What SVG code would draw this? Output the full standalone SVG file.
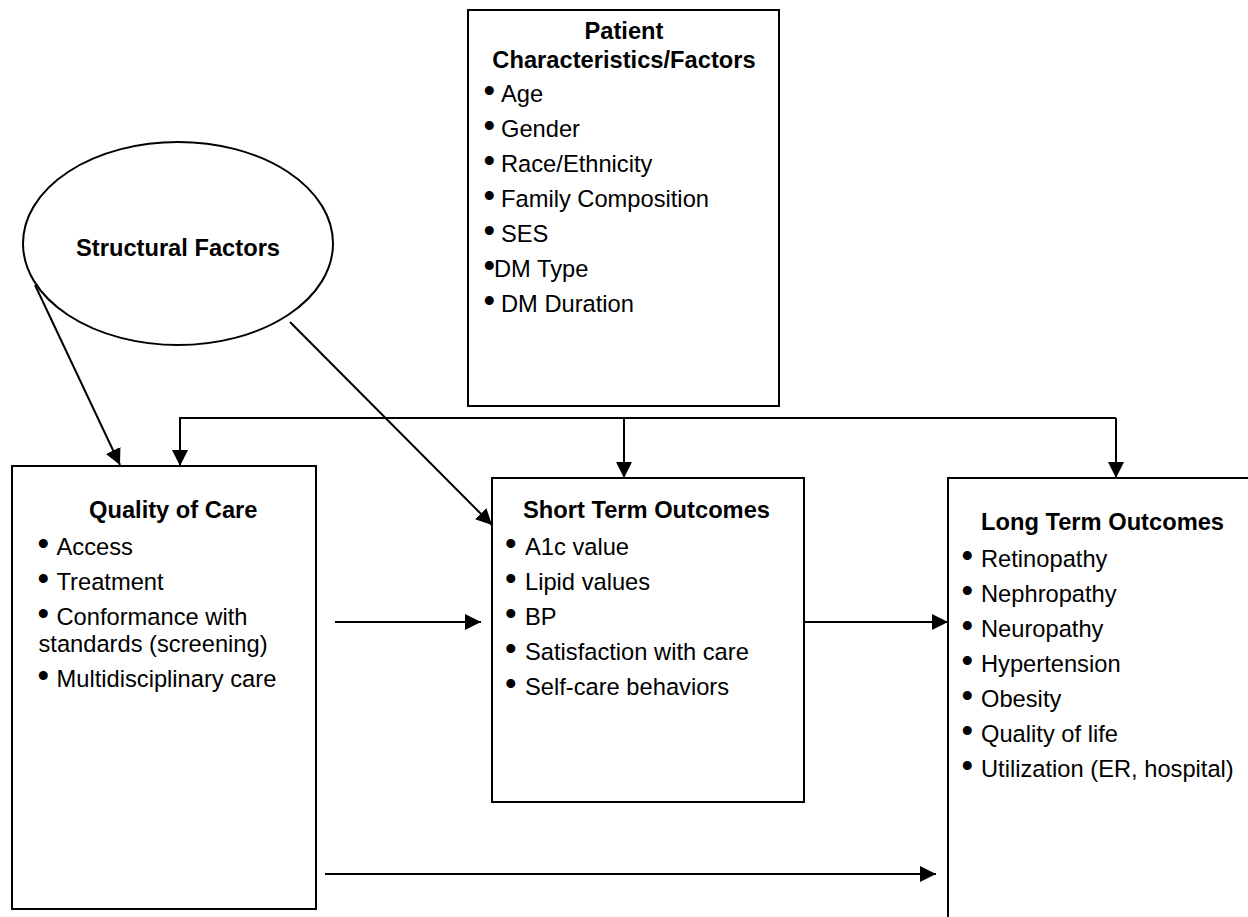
<svg xmlns="http://www.w3.org/2000/svg" width="1248" height="917" viewBox="0 0 1248 917">
<style>
  .box { fill: #fff; stroke: #000; stroke-width: 2; }
  .t { font-family: "Liberation Sans", Arial, sans-serif; font-size: 23.7px; fill: #000; }
  .h { font-family: "Liberation Sans", Arial, sans-serif; font-size: 23.7px; font-weight: bold; fill: #000; }
  .bu { font-family: "Liberation Sans", Arial, sans-serif; font-size: 33px; fill: #000; }
  .c { fill: none; stroke: #000; stroke-width: 2; }
</style>
<defs>
  <marker id="ah" markerUnits="userSpaceOnUse" markerWidth="16" markerHeight="16" refX="16" refY="8" orient="auto">
    <path d="M0,0 L16,8 L0,16 z" fill="#000"/>
  </marker>
</defs>
<rect width="1248" height="917" fill="#fff"/>

<g id="connectors">
  <path class="c" d="M35,285 L120,465" marker-end="url(#ah)"/>
  <path class="c" d="M290,322 L492,525" marker-end="url(#ah)"/>
  <path class="c" d="M1116,418 H180 V466" marker-end="url(#ah)"/>
  <path class="c" d="M1116,418 V478" marker-end="url(#ah)"/>
  <path class="c" d="M624,418 V478" marker-end="url(#ah)"/>
  <path class="c" d="M335,622 H481" marker-end="url(#ah)"/>
  <path class="c" d="M804,622 H948" marker-end="url(#ah)"/>
  <path class="c" d="M325,874 H936" marker-end="url(#ah)"/>
</g>

<g id="structural">
  <ellipse class="box" cx="178" cy="243.5" rx="155" ry="101.5"/>
  <text class="h" x="76" y="256">Structural Factors</text>
</g>

<g id="patient">
  <rect class="box" x="468" y="10" width="311" height="396"/>
  <text class="h" x="624" y="39" text-anchor="middle">Patient</text>
  <text class="h" x="624" y="67.5" text-anchor="middle">Characteristics/Factors</text>
  <text class="bu" x="483.5" y="102">•</text><text class="t" x="501" y="102">Age</text>
  <text class="bu" x="483.5" y="137">•</text><text class="t" x="501" y="137">Gender</text>
  <text class="bu" x="483.5" y="172">•</text><text class="t" x="501" y="172">Race/Ethnicity</text>
  <text class="bu" x="483.5" y="207">•</text><text class="t" x="501" y="207">Family Composition</text>
  <text class="bu" x="483.5" y="242">•</text><text class="t" x="501" y="242">SES</text>
  <text class="bu" x="483.5" y="277">•</text><text class="t" x="494" y="277">DM Type</text>
  <text class="bu" x="483.5" y="312">•</text><text class="t" x="501" y="312">DM Duration</text>
</g>

<g id="quality">
  <rect class="box" x="12" y="466" width="304" height="443"/>
  <text class="h" x="89" y="518">Quality of Care</text>
  <text class="bu" x="37.5" y="555">•</text><text class="t" x="56.5" y="555">Access</text>
  <text class="bu" x="37.5" y="590">•</text><text class="t" x="56.5" y="590">Treatment</text>
  <text class="bu" x="37.5" y="624.5">•</text><text class="t" x="56.5" y="624.5">Conformance with</text>
  <text class="t" x="38.5" y="651.5">standards (screening)</text>
  <text class="bu" x="37.5" y="687">•</text><text class="t" x="56.5" y="687">Multidisciplinary care</text>
</g>

<g id="short">
  <rect class="box" x="492" y="478" width="312" height="324"/>
  <text class="h" x="523" y="518">Short Term Outcomes</text>
  <text class="bu" x="505" y="554.5">•</text><text class="t" x="525" y="554.5">A1c value</text>
  <text class="bu" x="505" y="589.5">•</text><text class="t" x="525" y="589.5">Lipid values</text>
  <text class="bu" x="505" y="624.5">•</text><text class="t" x="525" y="624.5">BP</text>
  <text class="bu" x="505" y="659.5">•</text><text class="t" x="525" y="659.5">Satisfaction with care</text>
  <text class="bu" x="505" y="694.5">•</text><text class="t" x="525" y="694.5">Self-care behaviors</text>
</g>

<g id="long">
  <rect class="box" x="948" y="478" width="320" height="460"/>
  <text class="h" x="981" y="530">Long Term Outcomes</text>
  <text class="bu" x="961.5" y="567">•</text><text class="t" x="981" y="567">Retinopathy</text>
  <text class="bu" x="961.5" y="602">•</text><text class="t" x="981" y="602">Nephropathy</text>
  <text class="bu" x="961.5" y="637">•</text><text class="t" x="981" y="637">Neuropathy</text>
  <text class="bu" x="961.5" y="672">•</text><text class="t" x="981" y="672">Hypertension</text>
  <text class="bu" x="961.5" y="707">•</text><text class="t" x="981" y="707">Obesity</text>
  <text class="bu" x="961.5" y="742">•</text><text class="t" x="981" y="742">Quality of life</text>
  <text class="bu" x="961.5" y="777">•</text><text class="t" x="981" y="777">Utilization (ER, hospital)</text>
</g>
</svg>
